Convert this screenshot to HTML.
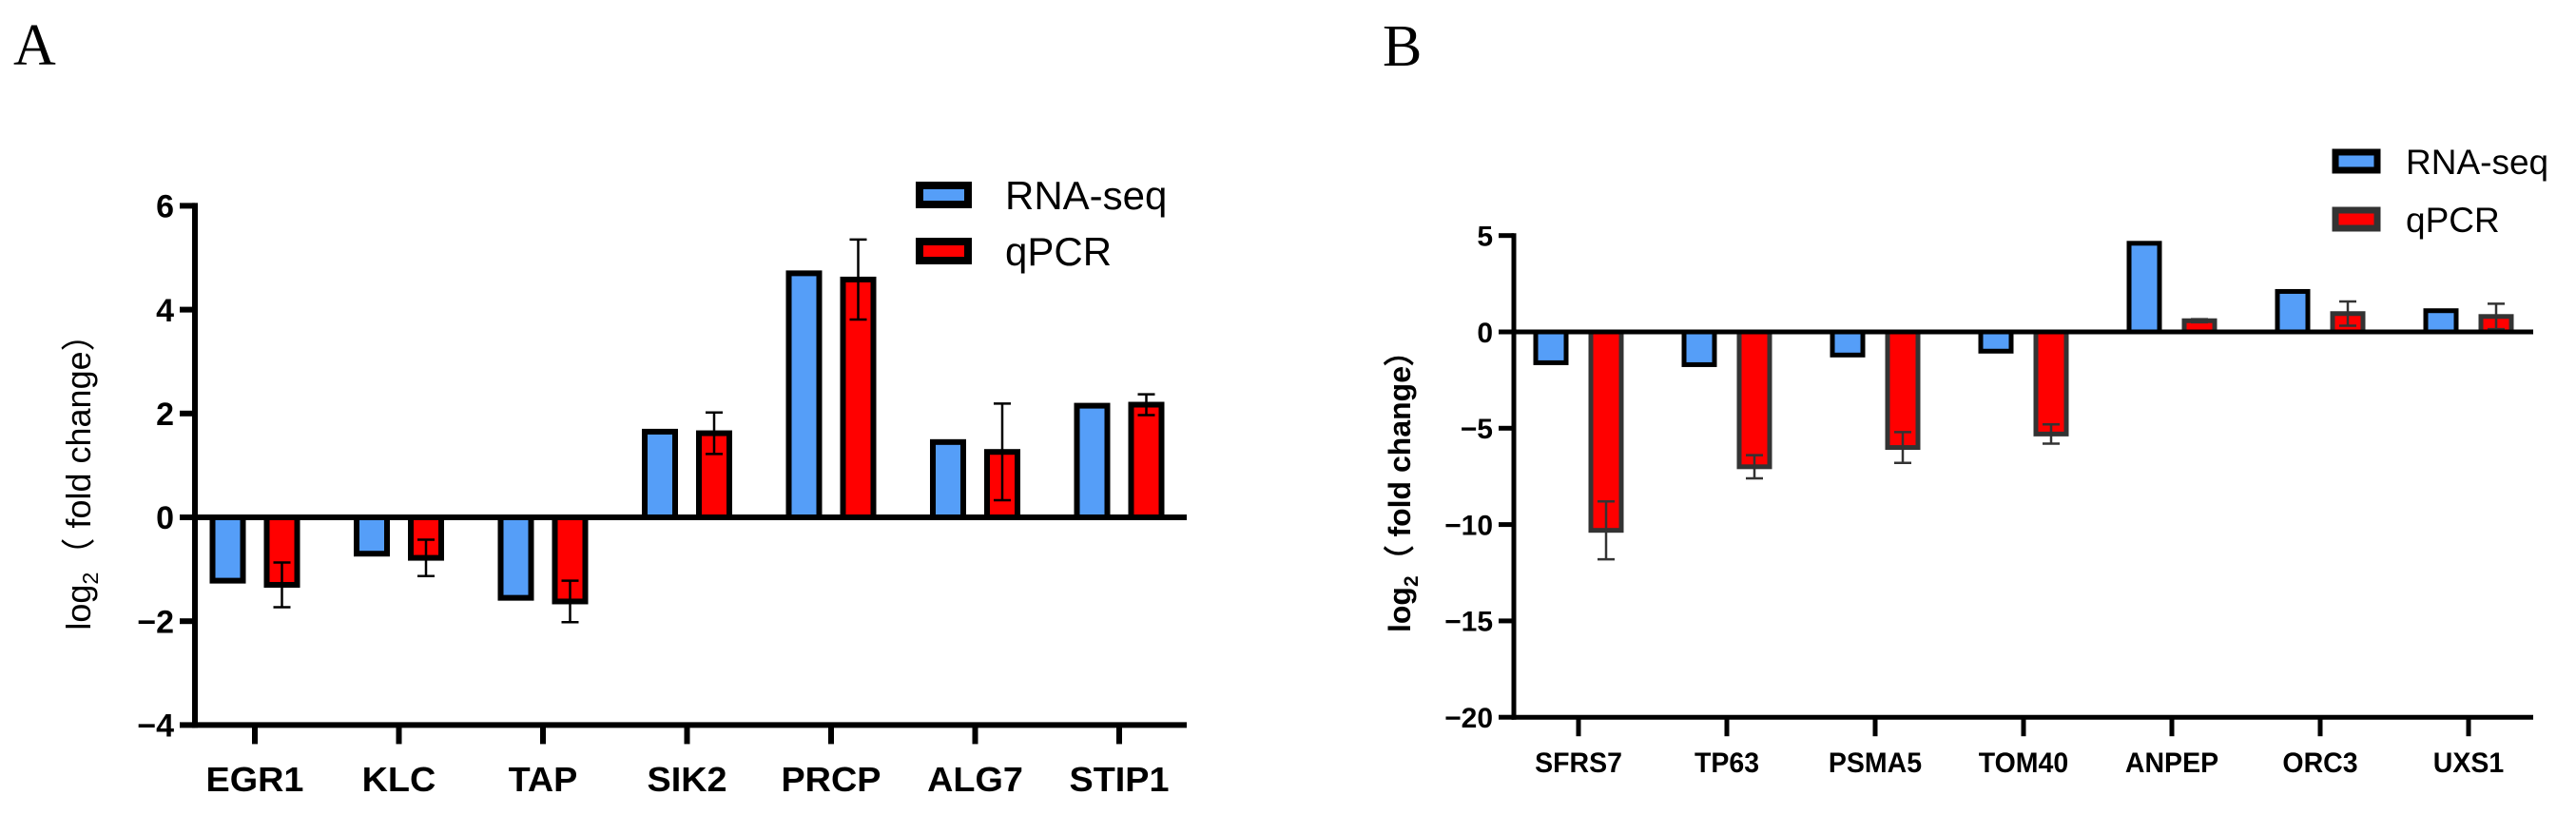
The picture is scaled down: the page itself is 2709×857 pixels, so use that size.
<!DOCTYPE html>
<html><head><meta charset="utf-8"><style>
html,body{margin:0;padding:0;background:#fff;}
svg{display:block;font-family:"Liberation Sans",Arial,sans-serif;}
</style></head><body>
<svg id="fig" width="2709" height="857" viewBox="0 0 2709 857" xmlns="http://www.w3.org/2000/svg">
<text x="14" y="68" font-family="Liberation Serif,serif" font-size="62">A</text>
<text x="1454" y="69" font-family="Liberation Serif,serif" font-size="62">B</text>
<g id="chartA"></g>
<g id="chartB"></g>
</svg>
<script>
const catsA = ["EGR1","KLC","TAP","SIK2","PRCP","ALG7","STIP1"];
const rnaA = [-1.22,-0.7,-1.55,1.65,4.7,1.45,2.15];
const qpcrA = [-1.3,-0.78,-1.62,1.62,4.58,1.26,2.17];
const errA = [0.43,0.35,0.4,0.4,0.77,0.93,0.2];
const ticksA = [6,4,2,0,-2,-4];

const catsB = ["SFRS7","TP63","PSMA5","TOM40","ANPEP","ORC3","UXS1"];
const rnaB = [-1.6,-1.7,-1.2,-1.0,4.6,2.1,1.1];
const qpcrB = [-10.3,-7.0,-6.0,-5.3,0.58,0.95,0.8];
const errB = [1.5,0.6,0.8,0.5,0.08,0.63,0.66];
const ticksB = [5,0,-5,-10,-15,-20];

const NS="http://www.w3.org/2000/svg";
function mk(parent,tag,attrs,text){const e=document.createElementNS(NS,tag);for(const k in attrs)e.setAttribute(k,attrs[k]);if(text!==undefined)e.textContent=text;parent.appendChild(e);return e;}

function draw(g,cfg,cats,rna,qpcr,err,ticks){
  const y=v=>cfg.y0-(v)*cfg.unit;
  const cx=i=>cfg.c0+i*cfg.step;
  const ymin=ticks[ticks.length-1], ymax=ticks[0];
  cats.forEach((c,i)=>{
    [[rna[i],-cfg.off,"#559ef8",cfg.blueStroke,"bar-rnaseq-"],[qpcr[i],cfg.off,"#ff0000",cfg.redStroke,"bar-qpcr-"]].forEach(([v,o,f,s,n])=>{
      const x=cx(i)+o-cfg.bw/2;
      const r=mk(g,"rect",{x:x,y:Math.min(y(v),y(0)),width:cfg.bw,height:Math.abs(y(v)-y(0)),fill:f,stroke:s,"stroke-width":cfg.bs});
      
      
    });
    const ex=cx(i)+cfg.off, v=qpcr[i], e=err[i];
    const eb=mk(g,"path",{d:`M${ex},${y(v+e)}V${y(v-e)}M${ex-9},${y(v+e)}H${ex+9}M${ex-9},${y(v-e)}H${ex+9}`,stroke:cfg.errC,"stroke-width":2.5,fill:"none"});
    
    
  });
  const ya=mk(g,"line",{x1:cfg.ax,y1:y(ymax)-cfg.aw/2,x2:cfg.ax,y2:y(ymin)+cfg.aw/2,stroke:"#000","stroke-width":cfg.aw});
  
  
  const z=mk(g,"line",{x1:cfg.ax,y1:y(0),x2:cfg.axEnd,y2:y(0),stroke:"#000","stroke-width":cfg.aw});
  
  
  const xa=mk(g,"line",{x1:cfg.ax-cfg.aw/2,y1:y(ymin),x2:cfg.axEnd,y2:y(ymin),stroke:"#000","stroke-width":cfg.aw});
  
  
  ticks.forEach(t=>{
    mk(g,"line",{x1:cfg.ax-16,y1:y(t),x2:cfg.ax,y2:y(t),stroke:"#000","stroke-width":cfg.aw});
    const tl=mk(g,"text",{x:cfg.ax-22,y:y(t)+cfg.tfs*0.36,"text-anchor":"end","font-size":cfg.tfs,"font-weight":"bold"},String(t).replace("-","\u2212"));
    
    
  });
  cats.forEach((c,i)=>{
    mk(g,"line",{x1:cx(i),y1:y(ymin),x2:cx(i),y2:y(ymin)+20,stroke:"#000","stroke-width":cfg.aw});
    const cl=mk(g,"text",{x:cx(i),y:cfg.labY,"text-anchor":"middle","font-size":cfg.cfs,"font-weight":"bold",transform:`translate(${cx(i)},0) scale(${cfg.sx},1) translate(${-cx(i)},0)`},c);
    
    
  });
  const tx=cfg.titX, ty=cfg.titY;
  const tt=mk(g,"text",{x:tx,y:ty,"text-anchor":"middle","font-size":cfg.yfs,"font-weight":cfg.yfw,transform:`rotate(-90 ${tx} ${ty})`});
  mk(tt,"tspan",{},"log");
  mk(tt,"tspan",{"font-size":cfg.yfs*0.65,dy:8},"2");
  mk(tt,"tspan",{dy:-8},"\uFF08 fold change\uFF09");
  
  
  [["RNA-seq","#559ef8",cfg.blueStroke],["qPCR","#ff0000",cfg.redStroke]].forEach(([n,f,s],k)=>{
    const ly=cfg.legY+k*cfg.legGap;
    const lg=mk(g,"g",{});
    
    
    mk(lg,"rect",{x:cfg.legX,y:ly,width:cfg.legW,height:cfg.legH,fill:f,stroke:s,"stroke-width":cfg.ls});
    mk(lg,"text",{x:cfg.legTx,y:ly+cfg.legH/2+cfg.lfs*0.36,"font-size":cfg.lfs},n);
  });
}
draw(document.getElementById("chartA"),{y0:544,unit:54.6,c0:268,step:151.5,off:28.5,bw:32,bs:6,aw:6,ax:205,axEnd:1248,
 blueStroke:"#000",redStroke:"#000",errC:"#000",tfs:34,cfs:36,sx:1.05,labY:832,titX:95,titY:498,yfs:36,yfw:"normal",
 legX:967,legY:195,legGap:59,legW:51,legH:20,ls:8,legTx:1057,lfs:42},catsA,rnaA,qpcrA,errA,ticksA);
draw(document.getElementById("chartB"),{y0:349,unit:20.26,c0:1660,step:156,off:29,bw:32,bs:5,aw:5,ax:1592,axEnd:2664,
 blueStroke:"#000",redStroke:"#333",errC:"#333",tfs:30,cfs:30,sx:0.95,labY:812,titX:1483,titY:509,yfs:32,yfw:"bold",
 legX:2456,legY:160,legGap:61,legW:44,legH:19,ls:7,legTx:2530,lfs:37},catsB,rnaB,qpcrB,errB,ticksB);
</script>
</body></html>
